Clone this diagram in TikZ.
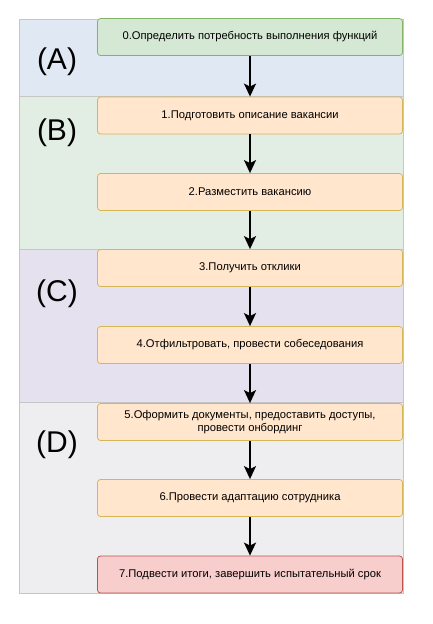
\documentclass[tikz,border=0pt]{standalone}
\usepackage{fontspec}
\setmainfont{Liberation Sans}
\usetikzlibrary{positioning}
\usetikzlibrary{arrows.meta}
\definecolor{bandA}{RGB}{224,232,243}
\definecolor{bandB}{RGB}{226,237,227}
\definecolor{bandC}{RGB}{229,225,238}
\definecolor{bandD}{RGB}{238,238,241}
\definecolor{greenfill}{RGB}{213,232,212}
\definecolor{greenline}{RGB}{130,179,102}
\definecolor{orangefill}{RGB}{255,230,204}
\definecolor{orangeline}{RGB}{214,182,86}
\definecolor{redfill}{RGB}{248,206,204}
\definecolor{redline}{RGB}{184,84,80}

\begin{document}
\begin{tikzpicture}[x=1pt, y=-1pt, >={Stealth[length=13pt, width=12pt, inset=3pt]},
band/.style={draw=gray!45, line width=0.5pt, anchor=north west, minimum width=384pt, inner sep=0pt},
stage/.style={rounded corners=3pt, line width=0.8pt, minimum width=305pt, minimum height=37pt, align=center, font=\fontsize{11.2}{13}\selectfont},
green/.style={stage, fill=greenfill, draw=greenline},
orange/.style={stage, fill=orangefill, draw=orangeline},
red/.style={stage, fill=redfill, draw=redline},
phase/.style={font=\fontsize{30}{32}\selectfont},
flow/.style={->, line width=2pt}]

\useasboundingbox (0,0) rectangle (432,624);

% bands
\node [band, fill=bandA, minimum height=77pt] (bA) at (19,19) {};
\node [band, fill=bandB, minimum height=153pt] (bB) at (19,96) {};
\node [band, fill=bandC, minimum height=153pt] (bC) at (19,249) {};
\node [band, fill=bandD, minimum height=191pt] (bD) at (19,402) {};

\node [phase] (lA) at (57,62) {(A)};
\node [phase] (lB) at (57,133) {(B)};
\node [phase] (lC) at (57,294) {(C)};
\node [phase] (lD) at (57,445) {(D)};

% stages
\node [green] (s0) at (250,37) {0.Определить потребность выполнения функций};
\node [orange] (s1) at (250,115.5) {1.Подготовить описание вакансии};
\node [orange] (s2) at (250,192) {2.Разместить вакансию};
\node [orange] (s3) at (250,268) {3.Получить отклики};
\node [orange] (s4) at (250,345) {4.Отфильтровать, провести собеседования};
\node [orange] (s5) at (250,422) {5.Оформить документы, предоставить доступы,\\провести онбординг};
\node [orange] (s6) at (250,498) {6.Провести адаптацию сотрудника};
\node [red] (s7) at (250,574.5) {7.Подвести итоги, завершить испытательный срок};

\draw [flow] (s0) -- (s1);
\draw [flow] (s1) -- (s2);
\draw [flow] (s2) -- (s3);
\draw [flow] (s3) -- (s4);
\draw [flow] (s4) -- (s5);
\draw [flow] (s5) -- (s6);
\draw [flow] (s6) -- (s7);
\end{tikzpicture}
\end{document}
